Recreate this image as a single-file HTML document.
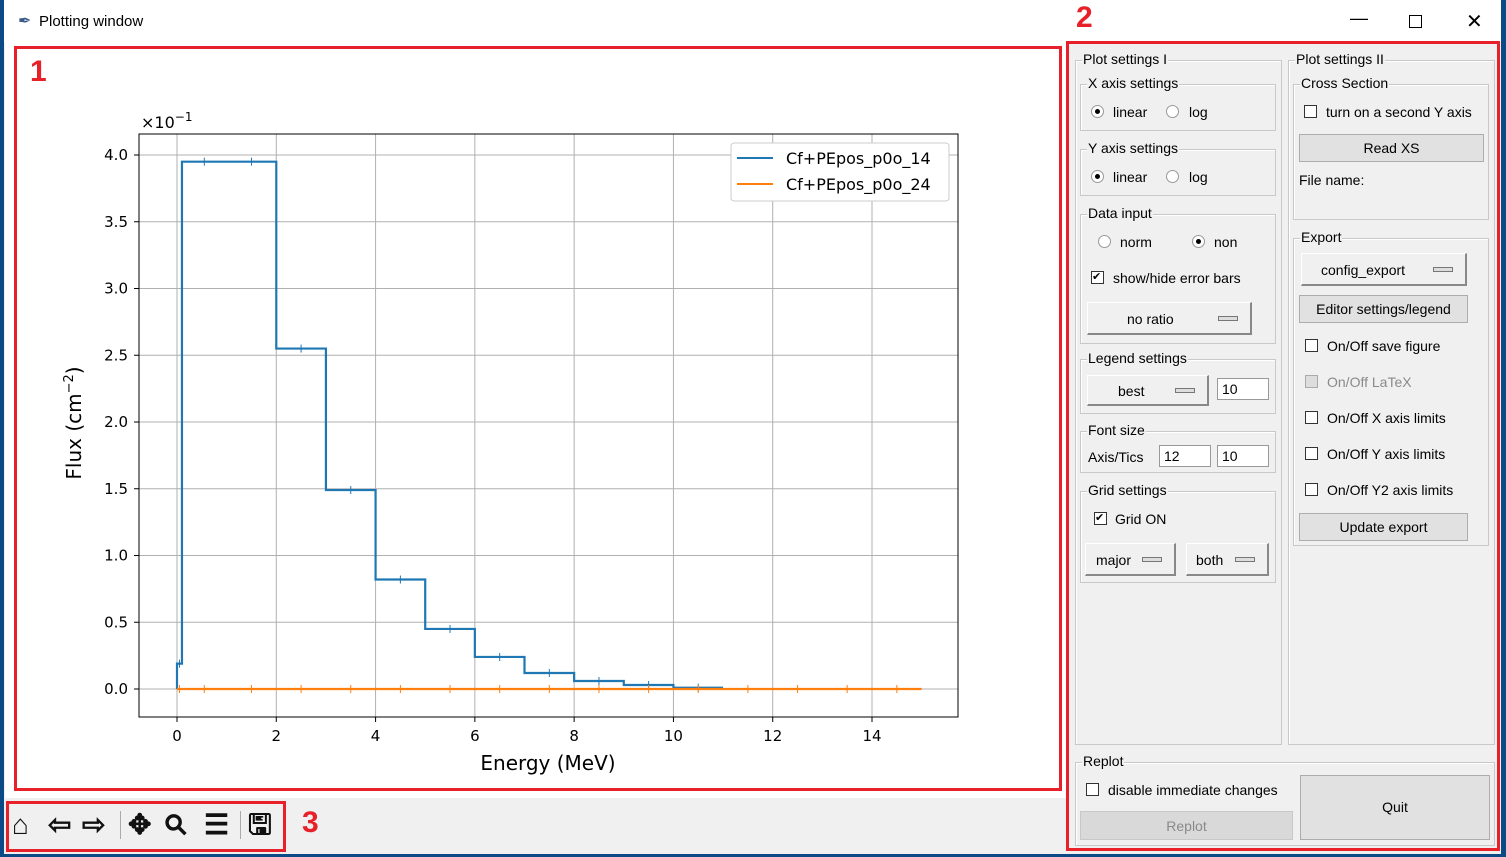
<!DOCTYPE html>
<html><head><meta charset="utf-8">
<style>
body{margin:0;width:1506px;height:857px;overflow:hidden;background:#0b4a86;font-family:"Liberation Sans",sans-serif;position:relative}
.a{position:absolute}
.t{font-size:14px;color:#000;white-space:nowrap}
.grp{position:absolute;border:1px solid #c8c8c8;box-shadow:1px 1px 0 #fff inset}
.lab{position:absolute;top:-10px;left:6px;background:#f0f0f0;font-size:14px;padding:0 1px;white-space:nowrap}
.btn{position:absolute;background:#e1e1e1;border:1px solid #adadad;font-size:14px;text-align:center;box-sizing:border-box}
.mb{position:absolute;background:#f0f0f0;border:1px solid #fff;border-right:2px solid #888;border-bottom:2px solid #888;font-size:14px;box-sizing:border-box}
.mb i{position:absolute;right:12px;top:50%;width:18px;height:3px;border:1px solid #777;background:#ddd;margin-top:-2px}
.cb{position:absolute;width:11px;height:11px;border:1px solid #333;background:#fff}
.rb{position:absolute;width:11px;height:11px;border-radius:50%;border:1px solid #999;background:#fff}
.rb.on::after{content:"";position:absolute;left:3px;top:3px;width:5px;height:5px;border-radius:50%;background:#000}
.red{position:absolute;border:3px solid #e8202a;box-sizing:border-box}
.num{position:absolute;color:#e8202a;font-weight:bold;font-size:30px}
.tb{position:absolute;top:808px;font-size:28px;line-height:34px;font-weight:bold;color:#111}
</style></head><body>
<div class="a" style="left:4px;top:0;width:1497px;height:854px;background:#f0f0f0"></div>
<div class="a" style="left:4px;top:0;width:1497px;height:42px;background:#fff"></div>
<div class="a t" style="left:18px;top:11px;font-size:16px;color:#3a5a8a">✒</div>
<div class="a t" style="left:39px;top:13px;font-size:15px">Plotting window</div>
<div class="a t" style="left:1350px;top:8px;font-size:18px">—</div>
<div class="a" style="left:1409px;top:15px;width:11px;height:11px;border:1px solid #000"></div>
<div class="a t" style="left:1466px;top:9px;font-size:20px">✕</div>
<div class="a" style="left:5px;top:42px;width:1061px;height:756px;background:#fff"></div>

<svg class="a" style="left:0;top:0" width="1070" height="800" id="chart"></svg>

<div class="red" style="left:14px;top:46px;width:1048px;height:745px"></div>
<div class="num" style="left:30px;top:55px">1</div>
<div class="red" style="left:1066px;top:41px;width:434px;height:810px"></div>
<div class="num" style="left:1076px;top:1px">2</div>
<div class="red" style="left:6px;top:801px;width:280px;height:51px"></div>
<div class="num" style="left:302px;top:806px">3</div>

<div class="tb" style="left:12px">⌂</div>
<div class="tb" style="left:48px">⇦</div>
<div class="tb" style="left:82px">⇨</div>
<div class="a" style="left:120px;top:811px;width:1px;height:28px;background:#aaa"></div>
<div class="tb" style="left:128px">✥</div>
<div class="tb" style="left:166px;transform:rotate(-45deg)">⚲</div>
<div class="tb" style="left:204px">☰</div>
<div class="a" style="left:240px;top:811px;width:1px;height:28px;background:#aaa"></div>
<div class="tb" style="left:248px">🖫</div>

<!-- settings panel -->
<div class="grp" style="left:1075px;top:60px;width:205px;height:683px"><span class="lab">Plot settings I</span></div>
<div class="grp" style="left:1288px;top:60px;width:205px;height:683px"><span class="lab">Plot settings II</span></div>

<div class="grp" style="left:1080px;top:84px;width:194px;height:45px"><span class="lab">X axis settings</span></div>
<div class="rb on" style="left:1091px;top:105px"></div><div class="a t" style="left:1113px;top:104px">linear</div>
<div class="rb" style="left:1166px;top:105px"></div><div class="a t" style="left:1189px;top:104px">log</div>

<div class="grp" style="left:1080px;top:149px;width:194px;height:45px"><span class="lab">Y axis settings</span></div>
<div class="rb on" style="left:1091px;top:170px"></div><div class="a t" style="left:1113px;top:169px">linear</div>
<div class="rb" style="left:1166px;top:170px"></div><div class="a t" style="left:1189px;top:169px">log</div>

<div class="grp" style="left:1080px;top:214px;width:194px;height:128px"><span class="lab">Data input</span></div>
<div class="rb" style="left:1098px;top:235px"></div><div class="a t" style="left:1120px;top:234px">norm</div>
<div class="rb on" style="left:1192px;top:235px"></div><div class="a t" style="left:1214px;top:234px">non</div>
<div class="cb" style="left:1091px;top:271px;font-size:11px;line-height:11px">✔</div><div class="a t" style="left:1113px;top:270px">show/hide error bars</div>
<div class="mb" style="left:1087px;top:302px;width:165px;height:33px;padding:8px 0 0 39px">no ratio<i></i></div>

<div class="grp" style="left:1080px;top:359px;width:194px;height:53px"><span class="lab">Legend settings</span></div>
<div class="mb" style="left:1087px;top:375px;width:122px;height:31px;padding:7px 0 0 30px">best<i></i></div>
<div class="a t" style="left:1217px;top:378px;width:52px;height:22px;border:1px solid #999;background:#fff;padding:2px 4px;box-sizing:border-box">10</div>

<div class="grp" style="left:1080px;top:431px;width:194px;height:40px"><span class="lab">Font size</span></div>
<div class="a t" style="left:1088px;top:449px">Axis/Tics</div>
<div class="a t" style="left:1159px;top:445px;width:52px;height:22px;border:1px solid #999;background:#fff;padding:2px 4px;box-sizing:border-box">12</div>
<div class="a t" style="left:1217px;top:445px;width:52px;height:22px;border:1px solid #999;background:#fff;padding:2px 4px;box-sizing:border-box">10</div>

<div class="grp" style="left:1080px;top:491px;width:194px;height:90px"><span class="lab">Grid settings</span></div>
<div class="cb" style="left:1094px;top:512px;font-size:11px;line-height:11px">✔</div><div class="a t" style="left:1115px;top:511px">Grid ON</div>
<div class="mb" style="left:1085px;top:543px;width:91px;height:33px;padding:8px 0 0 10px">major<i></i></div>
<div class="mb" style="left:1186px;top:543px;width:83px;height:33px;padding:8px 0 0 9px">both<i></i></div>

<div class="grp" style="left:1293px;top:84px;width:194px;height:134px"><span class="lab">Cross Section</span></div>
<div class="cb" style="left:1304px;top:105px"></div><div class="a t" style="left:1326px;top:104px">turn on a second Y axis</div>
<div class="btn" style="left:1299px;top:134px;width:185px;height:28px;padding-top:5px">Read XS</div>
<div class="a t" style="left:1299px;top:172px">File name:</div>

<div class="grp" style="left:1293px;top:238px;width:194px;height:306px"><span class="lab">Export</span></div>
<div class="mb" style="left:1301px;top:253px;width:166px;height:33px;padding:8px 0 0 19px">config_export<i></i></div>
<div class="btn" style="left:1299px;top:295px;width:169px;height:28px;padding-top:5px">Editor settings/legend</div>
<div class="cb" style="left:1305px;top:339px"></div><div class="a t" style="left:1327px;top:338px">On/Off save figure</div>
<div class="cb" style="left:1305px;top:375px;background:#ddd;border-color:#aaa"></div><div class="a t" style="left:1327px;top:374px;color:#8a8a8a">On/Off LaTeX</div>
<div class="cb" style="left:1305px;top:411px"></div><div class="a t" style="left:1327px;top:410px">On/Off X axis limits</div>
<div class="cb" style="left:1305px;top:447px"></div><div class="a t" style="left:1327px;top:446px">On/Off Y axis limits</div>
<div class="cb" style="left:1305px;top:483px"></div><div class="a t" style="left:1327px;top:482px">On/Off Y2 axis limits</div>
<div class="btn" style="left:1299px;top:513px;width:169px;height:28px;padding-top:5px">Update export</div>

<div class="grp" style="left:1075px;top:762px;width:418px;height:82px"><span class="lab">Replot</span></div>
<div class="cb" style="left:1086px;top:783px"></div><div class="a t" style="left:1108px;top:782px">disable immediate changes</div>
<div class="btn" style="left:1080px;top:811px;width:213px;height:29px;padding-top:6px;color:#8a8a8a;background:#d9d9d9;border-color:#c8c8c8">Replot</div>
<div class="btn" style="left:1300px;top:775px;width:190px;height:65px;padding-top:23px">Quit</div>

<script>
const binEdges=[0,0.1,1,2,3,4,5,6,7,8,9,10,11];
const blueVals=[0.19,3.95,3.95,2.55,1.49,0.82,0.45,0.24,0.12,0.06,0.03,0.01];
const orangeEdges=[0,0.1,1,2,3,4,5,6,7,8,9,10,11,12,13,14,15];
const orangeVals=[0,0,0,0,0,0,0,0,0,0,0,0,0,0,0,0];
const xTicks=[0,2,4,6,8,10,12,14];
const yTicks=[0,0.5,1,1.5,2,2.5,3,3.5,4];
const seriesNames=["Cf+PEpos_p0o_14","Cf+PEpos_p0o_24"];
const svg=document.getElementById('chart');
const NS='http://www.w3.org/2000/svg';
const L=139,R=958,T=134,B=717;
const xs=v=>177+v*(872-177)/14;
const ys=v=>689-v*(689-155)/4;
function mk(tag,at,txt){const e=document.createElementNS(NS,tag);for(const k in at)e.setAttribute(k,at[k]);if(txt!==undefined)e.textContent=txt;svg.appendChild(e);return e;}
xTicks.forEach(v=>{
 const g=mk('line',{x1:xs(v),x2:xs(v),y1:T,y2:B,stroke:'#b0b0b0','stroke-width':1});
 
 mk('line',{x1:xs(v),x2:xs(v),y1:B,y2:B+5,stroke:'#000'});
 const t=mk('text',{x:xs(v),y:B+24,'text-anchor':'middle','font-size':15,'font-family':'DejaVu Sans, sans-serif'},String(v));
 
});
yTicks.forEach(v=>{
 const g=mk('line',{x1:L,x2:R,y1:ys(v),y2:ys(v),stroke:'#b0b0b0','stroke-width':1});
 
 mk('line',{x1:L-5,x2:L,y1:ys(v),y2:ys(v),stroke:'#000'});
 const t=mk('text',{x:L-11,y:ys(v)+5,'text-anchor':'end','font-size':15,'font-family':'DejaVu Sans, sans-serif'},v.toFixed(1));
 
});
function step(edges,vals,color,name){
 let d='M'+xs(edges[0])+','+ys(0);
 for(let i=0;i<vals.length;i++){d+=' L'+xs(edges[i])+','+ys(vals[i])+' L'+xs(edges[i+1])+','+ys(vals[i]);}
 const p=mk('path',{d:d,fill:'none',stroke:color,'stroke-width':2.2});
 
 for(let i=0;i<vals.length;i++){const c=(edges[i]+edges[i+1])/2;
  const m=mk('line',{x1:xs(c),x2:xs(c),y1:ys(vals[i])-4,y2:ys(vals[i])+4,stroke:color,'stroke-width':1});
  }
}
step(binEdges,blueVals,'#1f77b4','series-14');
step(orangeEdges,orangeVals,'#ff7f0e','series-24');
const fr=mk('rect',{x:L,y:T,width:R-L,height:B-T,fill:'none',stroke:'#000','stroke-width':1});

const xl=mk('text',{x:548,y:770,'text-anchor':'middle','font-size':20,'font-family':'DejaVu Sans, sans-serif'},'Energy (MeV)');

const yl=mk('text',{x:0,y:0,transform:'translate(81,423) rotate(-90)','text-anchor':'middle','font-size':20,'font-family':'DejaVu Sans, sans-serif'},'Flux (cm');

const ys2=document.createElementNS(NS,'tspan');ys2.setAttribute('font-size',13);ys2.setAttribute('dy',-8);ys2.textContent='−2';yl.appendChild(ys2);
const ys3=document.createElementNS(NS,'tspan');ys3.setAttribute('dy',8);ys3.textContent=')';yl.appendChild(ys3);
const off=mk('text',{x:141,y:128,'font-size':16,'font-family':'DejaVu Sans, sans-serif'},'×10');

const sup=document.createElementNS(NS,'tspan');sup.setAttribute('font-size',12);sup.setAttribute('dy',-7);sup.textContent='−1';off.appendChild(sup);
const lg=mk('rect',{x:731,y:143,width:218,height:58,rx:3,fill:'#fff',stroke:'#ccc'});

['#1f77b4','#ff7f0e'].forEach((c,i)=>{
 const y=158+i*26;
 const l=mk('line',{x1:737,x2:773,y1:y,y2:y,stroke:c,'stroke-width':2});
 
 const t=mk('text',{x:786,y:y+6,'font-size':16,'font-family':'DejaVu Sans, sans-serif'},seriesNames[i]);
 
});
</script>
</body></html>
